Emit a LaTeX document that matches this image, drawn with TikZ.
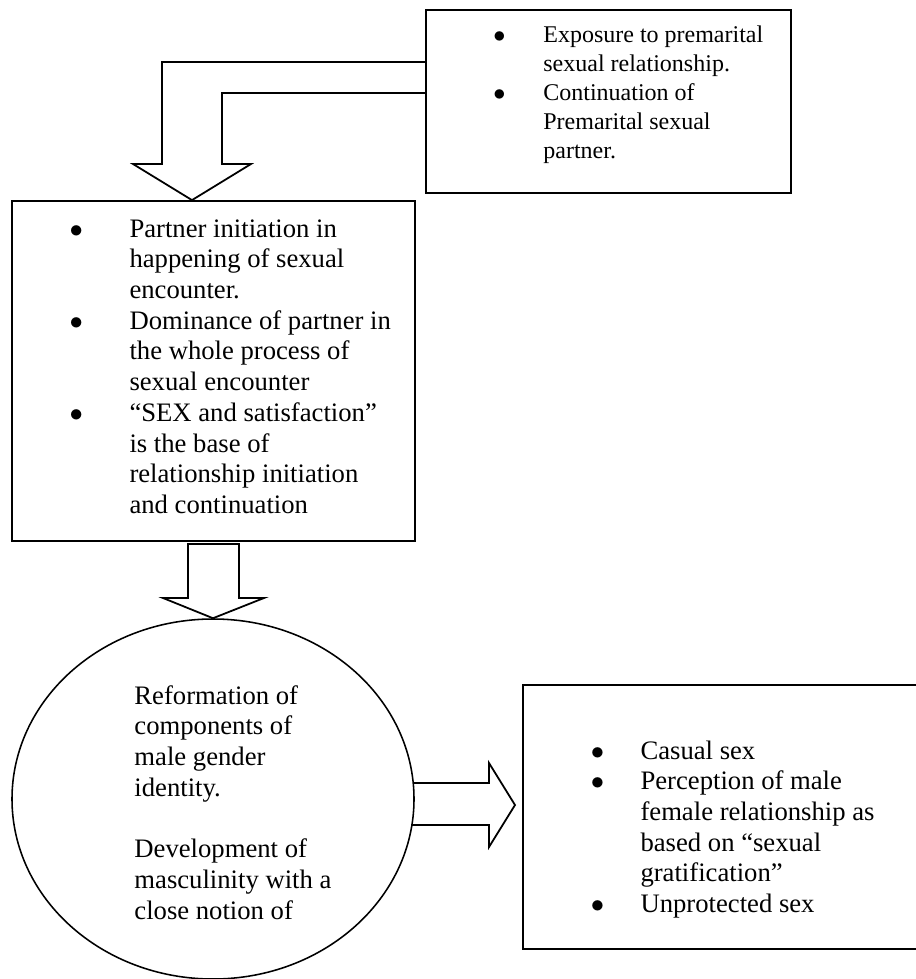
\documentclass[tikz,border=0pt]{standalone}
\usepackage{fontspec}
\setmainfont{Liberation Serif}
\usetikzlibrary{shapes.geometric, calc}

\newcommand{\bul}[1]{\makebox[#1][l]{$\bullet$}}

\begin{document}
\begin{tikzpicture}[
  x=0.45pt, y=-0.45pt,
  box/.style={draw, rectangle, line width=0.8pt, inner sep=0pt},
  oval/.style={draw, ellipse, line width=0.7pt, inner sep=0pt},
  txt/.style={anchor=base west, inner sep=0pt, font=\fontsize{12}{13.83}\selectfont},
  small/.style={font=\fontsize{10.8}{12.94}\selectfont},
  blockarrow/.style={draw, line width=0.8pt, line join=miter}
]
\useasboundingbox (0,0) rectangle (915,979);

\node[box, minimum width=164.25pt, minimum height=82.35pt] (expo)    at (608.5,101.5) {};
\node[box, minimum width=181.35pt, minimum height=153pt]   (partner) at (213.5,371) {};
\node[oval, minimum width=180.9pt, minimum height=162pt]   (reform)  at (213,799) {};
\node[box, minimum width=177.3pt, minimum height=118.8pt]  (outcome) at (720,817) {};

\node[txt, small] (expotxt) at (492.9,43) {\begin{tabular}[t]{@{}l@{}l@{}}
  \bul{22.5pt} & Exposure to premarital\\
               & sexual relationship.\\
  $\bullet$    & Continuation of\\
               & Premarital sexual\\
               & partner.
\end{tabular}};

\node[txt] (partnertxt) at (69.3,237) {\begin{tabular}[t]{@{}l@{}l@{}}
  \bul{26.9pt} & Partner initiation in\\
               & happening of sexual\\
               & encounter.\\
  $\bullet$    & Dominance of partner in\\
               & the whole process of\\
               & sexual encounter\\
  $\bullet$    & “SEX and satisfaction”\\
               & is the base of\\
               & relationship initiation\\
               & and continuation
\end{tabular}};

\node[txt] (reformtxt) at (134,704) {\begin{tabular}[t]{@{}l@{}}
  Reformation of\\
  components of\\
  male gender\\
  identity.\\
  \\
  Development of\\
  masculinity with a\\
  close notion of
\end{tabular}};

\node[txt] (outcometxt) at (590.3,759) {\begin{tabular}[t]{@{}l@{}l@{}}
  \bul{22.4pt} & Casual sex\\
  $\bullet$    & Perception of male\\
               & female relationship as\\
               & based on “sexual\\
               & gratification”\\
  $\bullet$    & Unprotected sex
\end{tabular}};

\draw[blockarrow] (expo.west |- 0,62) -| (162,164) -- (133,164) -- (192,0 |- partner.north)
  -- (251,164) -- (222,164) |- (expo.west |- 0,93);
\draw[blockarrow] (188,544) -- (188,598) -- (163,598) -- (reform.north)
  -- (264,598) -- (239,598) -- (239,544) -- cycle;
\draw[blockarrow] (413,783) -- (489,783) -- (489,763) -- (515,805) -- (489,847) -- (489,825)
  -- (412,825);
\end{tikzpicture}
\end{document}
